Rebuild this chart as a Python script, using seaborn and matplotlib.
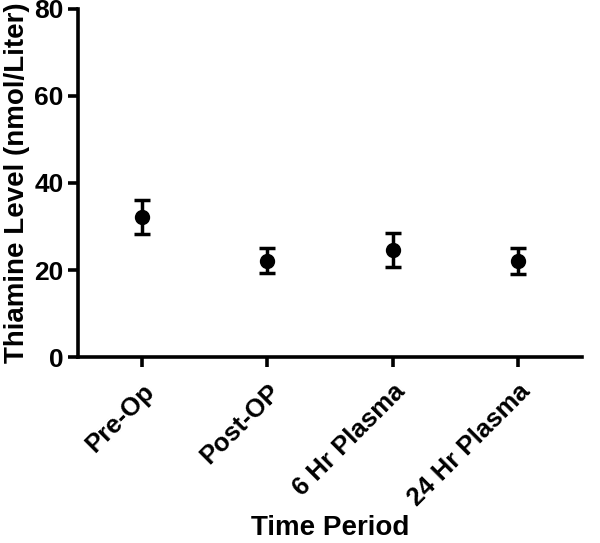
import matplotlib
matplotlib.use("Agg")
import matplotlib.pyplot as plt
import seaborn as sns
import numpy as np

# Thiamine level per time period (mean with error bar ends)
periods = ["Pre-Op", "Post-OP", "6 Hr Plasma", "24 Hr Plasma"]
means = [32.2, 22.1, 24.7, 22.1]
upper = [36.1, 25.0, 28.6, 25.1]
lower = [28.3, 19.2, 20.8, 19.1]

sns.set_style("ticks")
plt.rcParams['font.family'] = ['Liberation Sans', 'DejaVu Sans']
plt.rcParams['font.weight'] = 'bold'
plt.rcParams['text.color'] = 'black'
plt.rcParams['axes.labelcolor'] = 'black'
plt.rcParams['xtick.color'] = 'black'
plt.rcParams['ytick.color'] = 'black'

fig = plt.figure(figsize=(6, 5.43), dpi=100)
ax = fig.add_axes([0.13, 0.3425, 0.84, 0.641])

sns.pointplot(x=periods, y=means, linestyle='none', marker='o', color='black',
              markersize=9, errorbar=None, ax=ax)
yerr = np.array([np.subtract(means, lower), np.subtract(upper, means)])
ax.errorbar(np.arange(len(periods)), means, yerr=yerr, fmt='none', ecolor='black',
            elinewidth=2.5, capsize=5.5, capthick=2.5)

ax.set_ylim(0, 80)
ax.set_xlim(-0.51, 3.51)
ax.set_yticks([0, 20, 40, 60, 80])
sns.despine(ax=ax)
for side in ['left', 'bottom']:
    ax.spines[side].set_linewidth(2.6)
    ax.spines[side].set_color('black')
ax.tick_params(axis='both', width=2.6, length=7, color='black', labelsize=19)
ax.tick_params(axis='x', pad=9)
plt.setp(ax.get_xticklabels(), rotation=45, ha='right', rotation_mode='anchor',
         fontweight='bold', fontsize=18.5)
plt.setp(ax.get_yticklabels(), fontweight='bold')

ax.set_ylabel('Thiamine Level (nmol/Liter)', fontsize=20, fontweight='bold', labelpad=3)
ax.set_xlabel('Time Period', fontsize=20, fontweight='bold')
ax.xaxis.set_label_coords(0.5, -0.455)

fig.savefig('out.png', dpi=100)
